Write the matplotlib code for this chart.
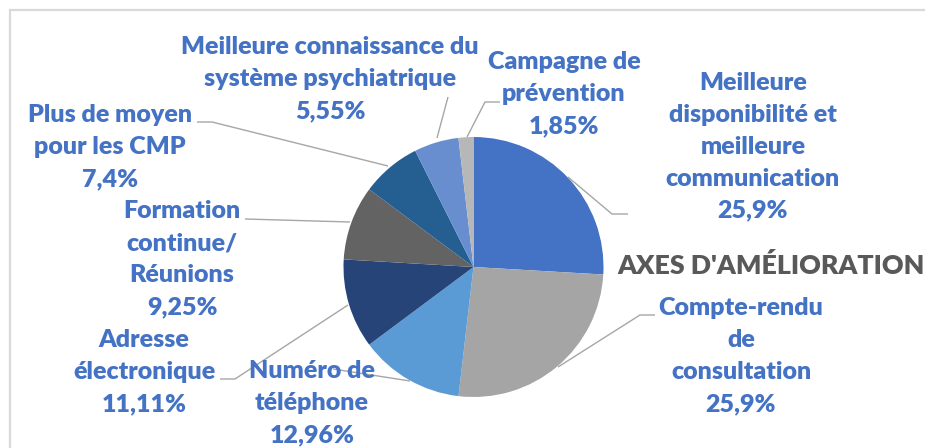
import matplotlib.pyplot as plt
from matplotlib.patches import Rectangle

plt.rcParams['font.family'] = ['Lato', 'DejaVu Sans']

W, H = 925, 448

labels = ["Meilleure\ndisponibilité et\nmeilleure\ncommunication",
          "Compte-rendu\nde\nconsultation",
          "Numéro de\ntéléphone",
          "Adresse\nélectronique",
          "Formation\ncontinue/\nRéunions",
          "Plus de moyen\npour les CMP",
          "Meilleure connaissance du\nsystème psychiatrique",
          "Campagne de\nprévention"]
values = [25.9, 25.9, 12.96, 11.11, 9.25, 7.4, 5.55, 1.85]
pct_text = ["25,9%", "25,9%", "12,96%", "11,11%", "9,25%", "7,4%", "5,55%", "1,85%"]
colors = ["#4472C4", "#A5A5A5", "#5B9BD5", "#264478",
          "#636363", "#255E91", "#698ED0", "#B7B7B7"]

# label centres (pixels from top-left) and leader line points
label_pos = [(753, 147), (741, 356), (312, 403), (144, 372),
             (182, 259), (110, 147), (330, 79), (564, 94)]
leaders = [[(568, 177), (612, 214), (628, 214)],
           [(558, 367), (640, 315), (655, 315)],
           [(410, 381), (333, 369)],
           [(348, 305), (235, 379), (220, 379)],
           [(350, 222), (245, 219)],
           [(388, 166), (212, 122), (197, 122)],
           [(437, 138), (448, 97)],
           [(467, 137), (485, 102), (500, 102)]]

fig = plt.figure(figsize=(W / 100, H / 100), dpi=100)
ax = fig.add_axes([0, 0, 1, 1])

def py(y):
    return H - y

ax.pie(values, colors=colors, startangle=90, counterclock=False,
       center=(473.5, py(267)), radius=130,
       wedgeprops=dict(linewidth=0))

for pts in leaders:
    ax.plot([p[0] for p in pts], [py(p[1]) for p in pts],
            color="#A6A6A6", lw=1.0, solid_capstyle='butt', zorder=1)

for lab, pct, (x, y) in zip(labels, pct_text, label_pos):
    ax.text(x, py(y), lab + "\n" + pct, ha='center', va='center',
            fontsize=18, fontweight='heavy', color="#4472C4",
            linespacing=1.55, zorder=3)

ax.text(617, py(265), "AXES D'AMÉLIORATION", ha='left', va='center',
        fontsize=19.3, fontweight='heavy', color="#595959")

ax.add_patch(Rectangle((10, py(H + 20)), W, H + 20 - 10,
                       fill=False, edgecolor="#D9D9D9", lw=1.6, zorder=0))

ax.set_xlim(0, W)
ax.set_ylim(0, H)
ax.set_aspect('auto')
ax.axis('off')

fig.savefig("out.png", dpi=100)
